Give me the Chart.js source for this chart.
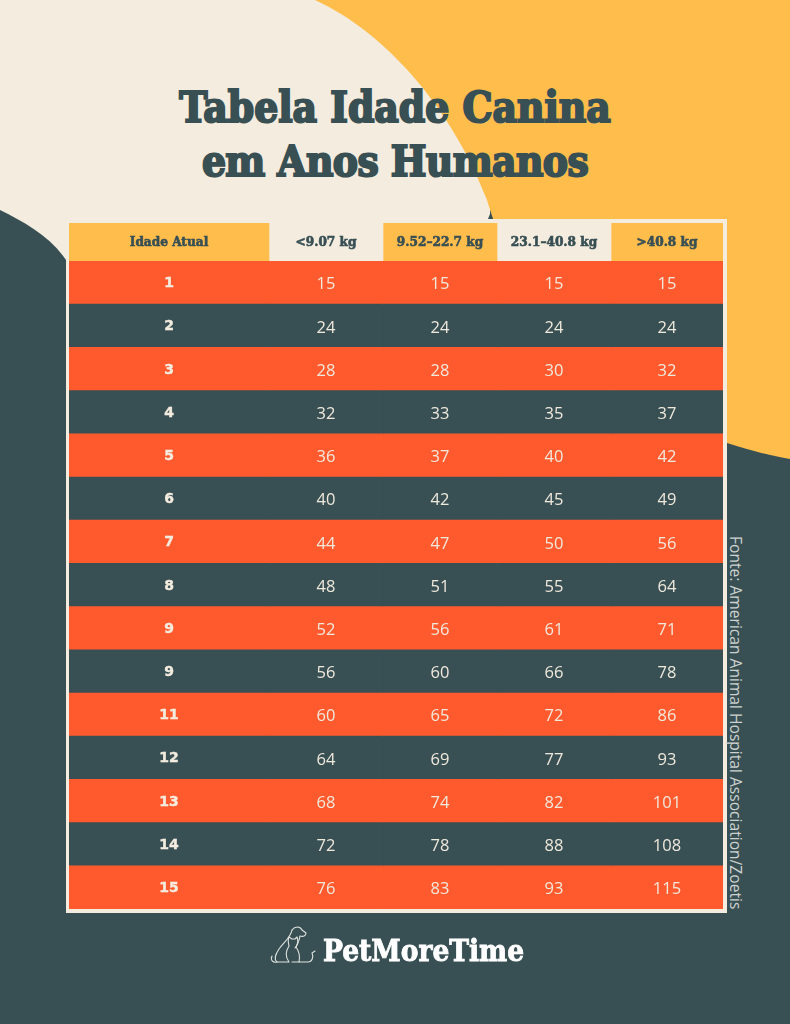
<!DOCTYPE html>
<html lang="pt">
<head>
<meta charset="utf-8">
<title>Tabela Idade Canina em Anos Humanos</title>
<script src="https://cdn.jsdelivr.net/npm/chart.js@4"></script>
<style>
    html, body { margin: 0; padding: 0; }
    body { position: relative; width: 790px; height: 1024px; overflow: hidden; background: #384f54; }
    .bg, canvas, .frame, .title, .fonte, .brand, .logo { position: absolute; display: block; }
    .bg { left: 0; top: 0; }
    .frame { left: 66px; top: 219px; width: 661px; height: 694px; box-sizing: border-box; border: 4px solid #f3ecdf; border-left-width: 3px; background: #f3ecdf; }
    #headerChart { left: 69px; top: 223px; }
    #bodyChart { left: 69px; top: 261px; }
    .title {
        left: 0; top: 81px; width: 790px; text-align: center; color: #384f54;
        font: bold 42px/54px "DejaVu Serif Condensed", "DejaVu Serif", serif;
        -webkit-text-stroke: 2px #384f54;
        text-shadow: 1px 1px 0 rgba(255, 226, 170, .6);
    }
    .title span { letter-spacing: -0.6px; }
    .fonte {
        left: 727px; top: 536px; writing-mode: vertical-rl; white-space: nowrap;
        font: 15.6px "Open Sans", sans-serif; line-height: 18px; color: #cdd2ce;
    }
    .brand {
        left: 323px; top: 933px; color: #fff;
        font: bold 29.5px/36px "DejaVu Serif Condensed", "DejaVu Serif", serif;
        -webkit-text-stroke: 0.8px #fff;
    }
    .logo { left: 0; top: 0; }
</style>
</head>
<body>
<svg class="bg" width="790" height="1024">
    <path d="M0,0 H490 V260 H66 C50,236 24,222 0,210 Z" fill="#f3ecdf"/>
    <path d="M315,0 C385,32 452,108 487,200 C510,280 590,425 727,443 C750,450 770,456 790,459 V0 Z" fill="#ffbe4b"/>
    <path d="M490,214 L493,219 H488 Z" fill="#384f54"/>
</svg>
<div class="frame"></div>
<canvas id="headerChart" width="654" height="38"></canvas>
<canvas id="bodyChart" width="654" height="648"></canvas>
<div class="title">Tabela Idade Canina<br><span>em Anos Humanos</span></div>
<div class="fonte">Fonte: American Animal Hospital Association/Zoetis</div>
<svg class="logo" width="790" height="1024" fill="none" stroke="#dfe3de" stroke-width="1.1" stroke-linecap="round" stroke-linejoin="round">
    <path d="M292,930 C295,926 300,926 302,930 L306,933 C306,936 303,937 300,936 C299,941 298,945 295,948"/>
    <path d="M292,930 C291,937 284,942 279,949 C275,955 274,960 277,962 C273,963 270,960 272,956"/>
    <path d="M277,962 H289 C286,958 285,952 289,946 C288,942 288,939 289,937 L292,939 H295 L297,937 C299,941 297,945 296,947 C299,951 300,957 299,962 H308 C312,962 314,957 312,953 L315,951"/>
    <path d="M299,962 H292"/>
</svg>
<div class="brand">PetMoreTime</div>
<script>
// Данные таблицы
const headers = ['Idade Atual', '<9.07 kg', '9.52–22.7 kg', '23.1–40.8 kg', '>40.8 kg'];
const idade = ['1', '2', '3', '4', '5', '6', '7', '8', '9', '9', '11', '12', '13', '14', '15'];
const peso1 = [15, 24, 28, 32, 36, 40, 44, 48, 52, 56, 60, 64, 68, 72, 76];
const peso2 = [15, 24, 28, 33, 37, 42, 47, 51, 56, 60, 65, 69, 74, 78, 83];
const peso3 = [15, 24, 30, 35, 40, 45, 50, 55, 61, 66, 72, 77, 82, 88, 93];
const peso4 = [15, 24, 32, 37, 42, 49, 56, 64, 71, 78, 86, 93, 101, 108, 115];

// Ширина колонок в единицах оси x
const columnSpans = [200, 114, 114, 114, 112];

const cream = '#f3ecdf';
const yellow = '#ffbe4b';
const red = '#ff5a2d';
const dark = '#384f54';

// Подписи ячеек по центру каждого сегмента
const cellText = {
    id: 'cellText',
    afterDatasetsDraw(chart, args, opts) {
        const ctx = chart.ctx;
        ctx.save();
        ctx.textAlign = 'center';
        ctx.textBaseline = 'middle';
        chart.data.datasets.forEach((ds, i) => {
            const style = opts.style(i);
            chart.getDatasetMeta(i).data.forEach((bar, row) => {
                const p = bar.getCenterPoint();
                ctx.font = style.font;
                ctx.fillStyle = style.color;
                ctx.fillText(ds.cells[row], p.x, p.y + style.dy);
                if (style.stroke) {
                    ctx.lineWidth = style.stroke;
                    ctx.strokeStyle = style.color;
                    ctx.strokeText(ds.cells[row], p.x, p.y + style.dy);
                }
            });
        });
        ctx.restore();
    }
};

const createTable = (id, rows, columns, fill, style) => new Chart(document.getElementById(id), {
    type: 'bar',
    data: {
        labels: rows,
        datasets: columns.map((cells, i) => ({
            cells: cells,
            data: rows.map(() => columnSpans[i]),
            backgroundColor: c => fill(c.datasetIndex, c.dataIndex),
            borderWidth: 0,
            barPercentage: 1,
            categoryPercentage: 1
        }))
    },
    options: {
        indexAxis: 'y',
        responsive: false,
        animation: false,
        devicePixelRatio: 1,
        layout: { padding: 0 },
        scales: {
            x: { stacked: true, display: false, min: 0, max: 654 },
            y: { stacked: true, display: false }
        },
        plugins: {
            legend: { display: false },
            tooltip: { enabled: false },
            cellText: { style: style }
        }
    },
    plugins: [cellText]
});

// Шапка
createTable('headerChart', ['header'], headers.map(h => [h]),
    col => (col % 2 ? cream : yellow),
    () => ({ font: 'bold 13.5px "DejaVu Serif Condensed", "DejaVu Serif", serif', color: dark, dy: 0, stroke: 0.6 }));

// Строки
createTable('bodyChart', idade, [idade, peso1, peso2, peso3, peso4],
    (col, row) => (row % 2 ? dark : red),
    col => (col === 0
        ? { font: 'bold 14px "DejaVu Sans", sans-serif', color: cream, dy: 1, stroke: 0.4 }
        : { font: '16.5px "Open Sans", sans-serif', color: '#efe9dc', dy: 2 }));
</script>
</body>
</html>
